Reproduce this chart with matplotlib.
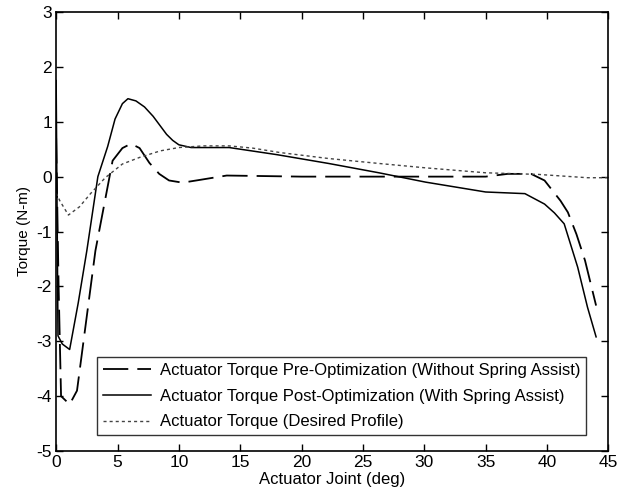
import numpy as np
import matplotlib.pyplot as plt

plt.rcParams['font.family'] = ['Liberation Sans', 'DejaVu Sans']
plt.rcParams['axes.unicode_minus'] = False

# pre-optimization (without spring assist)
x_pre = [0.0, 0.2, 0.4, 1.1, 1.7, 3.2, 4.6, 5.4, 6.1, 6.8, 7.6, 8.4, 9.2, 10.3, 11.7, 13.9,
         20, 25, 30, 35, 36.8, 38.7, 39.8, 41.1, 41.7, 42.4, 43.1, 44.0]
y_pre = [0.7, -2.0, -4.0, -4.15, -3.9, -1.35, 0.29, 0.52, 0.6, 0.52, 0.25, 0.05, -0.07, -0.11, -0.06, 0.02,
         0.0, 0.0, 0.0, 0.0, 0.05, 0.05, -0.07, -0.44, -0.65, -1.05, -1.53, -2.35]

# post-optimization (with spring assist)
x_post = [0.0, 0.15, 0.5, 1.1, 1.8, 2.5, 3.4, 4.2, 4.8, 5.4, 5.85, 6.5, 7.2, 7.9, 8.5, 9.0, 9.5, 10.0, 11.0,
          14.1, 18.0, 22.2, 26.3, 30.1, 35.0, 38.2, 39.8, 40.6, 41.4, 42.5, 43.3, 44.0]
y_post = [1.75, -2.9, -3.05, -3.15, -2.3, -1.35, 0.0, 0.55, 1.05, 1.33, 1.42, 1.38, 1.27, 1.1, 0.92, 0.77, 0.66, 0.58, 0.53,
          0.53, 0.4, 0.24, 0.07, -0.1, -0.28, -0.31, -0.5, -0.66, -0.86, -1.65, -2.38, -2.92]

# desired profile
x_des = [0.0, 0.3, 1.0, 1.9, 2.8, 4.0, 5.4, 6.8, 8.5, 10.0, 12.0, 14.1, 16.0, 18.2, 22.2, 26.3,
         30.1, 35.0, 39.3, 43.3, 45.0]
y_des = [-0.3, -0.44, -0.7, -0.55, -0.31, -0.02, 0.23, 0.35, 0.47, 0.53, 0.56, 0.56, 0.52, 0.44, 0.33, 0.24,
         0.16, 0.07, 0.04, -0.02, -0.02]

fig = plt.figure(figsize=(6.17, 5.0), dpi=100)
ax = fig.add_axes([0.091, 0.098, 0.895, 0.878])

ax.plot(x_pre, y_pre, color='black', lw=1.3, dashes=(14, 5),
        label='Actuator Torque Pre-Optimization (Without Spring Assist)')
ax.plot(x_post, y_post, color='black', lw=1.1,
        label='Actuator Torque Post-Optimization (With Spring Assist)')
ax.plot(x_des, y_des, color='#444444', lw=1.0, dashes=(2.2, 2.2),
        label='Actuator Torque (Desired Profile)')

ax.set_xlim(0, 45)
ax.set_ylim(-5, 3)
ax.set_xticks(np.arange(0, 46, 5))
ax.set_yticks(np.arange(-5, 4, 1))
ax.tick_params(direction='in', top=True, right=True, length=5, width=1, labelsize=12.5, pad=3)
for s in ax.spines.values():
    s.set_linewidth(1.2)

ax.set_xlabel('Actuator Joint (deg)', fontsize=12, labelpad=1)
ax.set_ylabel('Torque (N-m)', fontsize=11, labelpad=4)

leg = ax.legend(loc='lower left', bbox_to_anchor=(0.074, 0.036), fontsize=12, frameon=True,
                fancybox=False, edgecolor='black', handlelength=2.9, handletextpad=0.5,
                borderpad=0.35, labelspacing=0.64, borderaxespad=0)
leg.get_frame().set_linewidth(1.0)

fig.savefig('out.png', dpi=100)
